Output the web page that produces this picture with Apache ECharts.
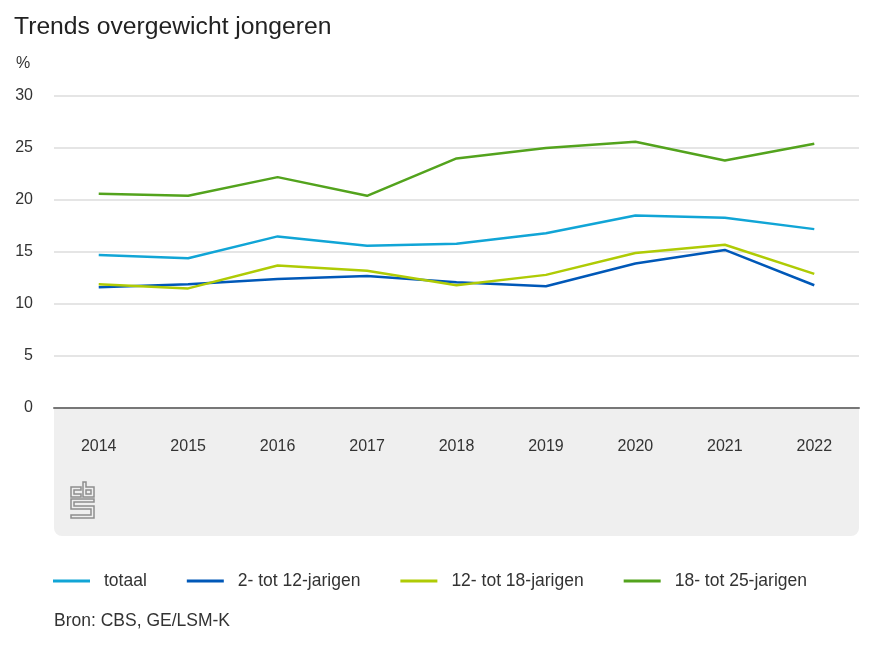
<!DOCTYPE html>
<html>
<head>
<meta charset="utf-8">
<script src="https://cdn.jsdelivr.net/npm/echarts@6/dist/echarts.min.js"></script>
<style>
html,body{margin:0;padding:0;background:#fff;}
#c{width:874px;height:656px;}
</style>
</head>
<body>
<div id="c"></div>
<script>
var years = ['2014','2015','2016','2017','2018','2019','2020','2021','2022'];
var totaal = [14.7, 14.4, 16.5, 15.6, 15.8, 16.8, 18.5, 18.3, 17.2];
var jarigen2tot12 = [11.6, 11.9, 12.4, 12.7, 12.1, 11.7, 13.9, 15.2, 11.8];
var jarigen12tot18 = [11.9, 11.5, 13.7, 13.2, 11.8, 12.8, 14.9, 15.7, 12.9];
var jarigen18tot25 = [20.6, 20.4, 22.2, 20.4, 24.0, 25.0, 25.6, 23.8, 25.4];
var seriesNames = ['totaal', '2- tot 12-jarigen', '12- tot 18-jarigen', '18- tot 25-jarigen'];
var seriesColors = ['#11a5d6', '#0058b8', '#afcb05', '#53a31d'];
var seriesData = [totaal, jarigen2tot12, jarigen12tot18, jarigen18tot25];

var FONT = '"Liberation Sans", Arial, sans-serif';
var chart = echarts.init(document.getElementById('c'), null, {renderer: 'canvas'});

var series = seriesNames.map(function (n, i) {
  return {
    name: n, type: 'line', data: seriesData[i],
    symbol: 'none', smooth: false,
    lineStyle: {width: 2.5, color: seriesColors[i]},
    itemStyle: {color: seriesColors[i]},
    z: 5
  };
});

var stroke = {fill: 'none', stroke: '#8e8e8e', lineWidth: 1.5};
chart.setOption({
  animation: false,
  textStyle: {fontFamily: FONT},
  title: {
    text: 'Trends overgewicht jongeren', left: 9, top: 10,
    textStyle: {fontSize: 24.7, fontWeight: 'normal', color: '#222', fontFamily: FONT}
  },
  grid: {left: 54, right: 15, top: 96, bottom: 248, containLabel: false},
  xAxis: {
    type: 'category', data: years, boundaryGap: true,
    axisLine: {lineStyle: {color: '#777', width: 2}},
    axisTick: {alignWithLabel: true, length: 12, lineStyle: {color: '#aaaaaa', width: 1}},
    axisLabel: {color: '#333', fontSize: 16, margin: 31, fontFamily: FONT},
    z: 3
  },
  yAxis: {
    type: 'value', min: 0, max: 30, interval: 5,
    axisLine: {show: false}, axisTick: {show: false},
    axisLabel: {color: '#333', fontSize: 16, margin: 21, fontFamily: FONT},
    splitLine: {lineStyle: {color: '#dcdcdc', width: 1.5}}
  },
  legend: {
    data: seriesNames, left: 53, top: 572, padding: 0,
    icon: 'rect', itemWidth: 37, itemHeight: 3, itemGap: 40,
    textStyle: {fontSize: 17.5, color: '#333', padding: [0, 0, 0, 9], fontFamily: FONT}
  },
  graphic: [
    {type: 'rect', z: -10, shape: {x: 54, y: 409, width: 805, height: 127, r: [0, 0, 8, 8]}, style: {fill: '#efefef'}},
    {type: 'text', left: 16, top: 56, style: {text: '%', fill: '#333', font: '16px ' + FONT}},
    {type: 'text', left: 54, top: 612, style: {text: 'Bron: CBS, GE/LSM-K', fill: '#333', font: '17.5px ' + FONT}},
    {type: 'polygon', z: 1, shape: {points: [[71,487],[81,487],[81,490],[74,490],[74,494],[81,494],[81,497],[71,497]]}, style: stroke},
    {type: 'polygon', z: 1, shape: {points: [[83,482],[86,482],[86,487],[94,487],[94,497],[83,497]]}, style: stroke},
    {type: 'polygon', z: 1, shape: {points: [[86,490],[91,490],[91,494],[86,494]]}, style: stroke},
    {type: 'polygon', z: 1, shape: {points: [[71,499],[94,499],[94,502],[74,502],[74,506],[94,506],[94,518],[71,518],[71,515],[91,515],[91,509],[71,509]]}, style: stroke}
  ],
  series: series
});
</script>
</body>
</html>
